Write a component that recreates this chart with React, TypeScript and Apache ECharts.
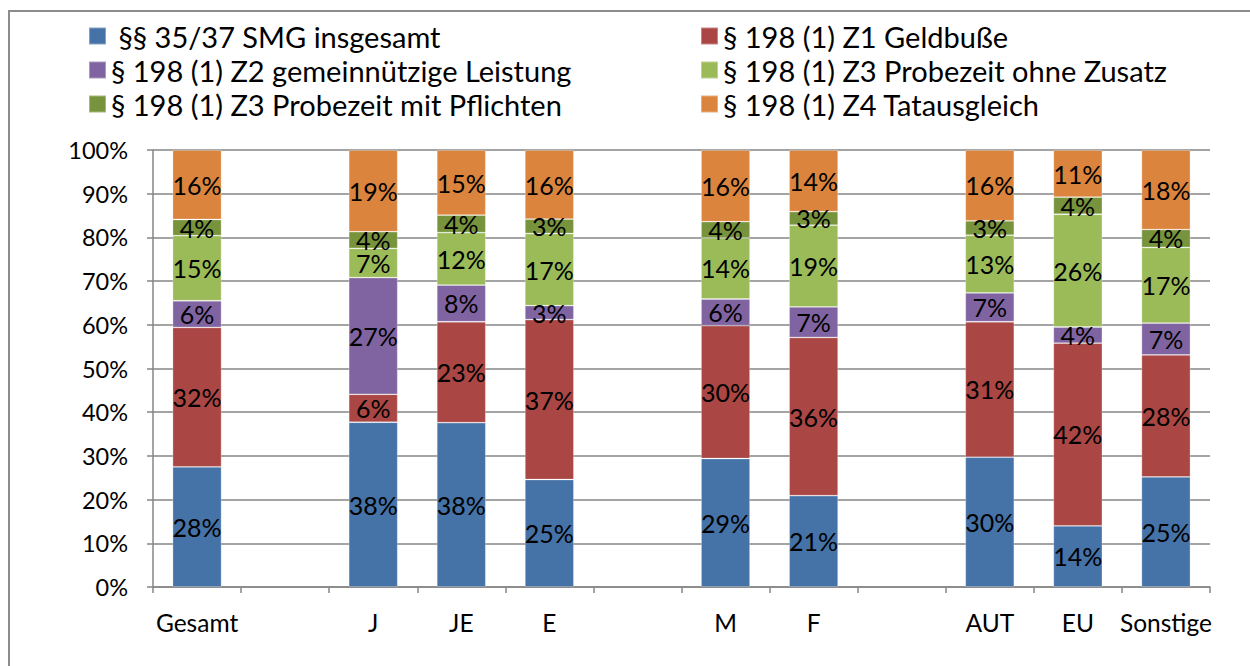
import React, { useEffect, useRef } from "react";
import * as echarts from "echarts";

// 12 slots: Gesamt, gap, J, JE, E, gap, M, F, gap, AUT, EU, Sonstige
const slotLabels = ["Gesamt", "", "J", "JE", "E", " ", "M", "F", "  ", "AUT", "EU", "Sonstige"];

const seriesNames = [
  "§§ 35/37 SMG insgesamt",
  "§ 198 (1) Z1 Geldbuße",
  "§ 198 (1) Z2 gemeinnützige Leistung",
  "§ 198 (1) Z3 Probezeit ohne Zusatz",
  "§ 198 (1) Z3 Probezeit mit Pflichten",
  "§ 198 (1) Z4 Tatausgleich",
];

const smgInsgesamt = [27.5, null, 37.7, 37.6, 24.6, null, 29.4, 20.9, null, 29.7, 14.0, 25.2];
const geldbusse = [31.9, null, 6.4, 23.1, 36.6, null, 30.4, 36.2, null, 31.0, 41.8, 27.9];
const gemeinnuetzig = [6.1, null, 26.7, 8.4, 3.2, null, 6.1, 7.0, null, 6.6, 3.7, 7.3];
const probezeitOhne = [14.9, null, 6.7, 12.0, 16.5, null, 14.0, 18.7, null, 13.2, 25.8, 17.3];
const probezeitMit = [3.7, null, 3.8, 4.0, 3.3, null, 3.7, 3.1, null, 3.3, 3.9, 4.1];
const tatausgleich = [15.9, null, 18.7, 14.9, 15.8, null, 16.4, 14.1, null, 16.2, 10.8, 18.2];

const yTicks = [0, 10, 20, 30, 40, 50, 60, 70, 80, 90, 100];

const colors = ["#4572A7", "#AA4643", "#8064A2", "#9BBB59", "#77933C", "#DB843D"];
const FONT = "Lato, 'Noto Sans', sans-serif";

export default function App() {
  const ref = useRef<HTMLDivElement>(null);
  useEffect(() => {
    if (!ref.current) return;
    const chart = echarts.init(ref.current, null, { renderer: "svg" });
    const values = [smgInsgesamt, geldbusse, gemeinnuetzig, probezeitOhne, probezeitMit, tatausgleich];
    const base = { fontFamily: FONT, color: "#000" };
    const legendText = { ...base, fontSize: 29, lineHeight: 30 };
    chart.setOption({
      animation: false,
      backgroundColor: "#fff",
      color: colors,
      graphic: [
        {
          type: "rect",
          shape: { x: 9, y: 11, width: 1300, height: 700 },
          style: { fill: "none", stroke: "#8c8c8c", lineWidth: 2 },
          silent: true,
          z: -10,
        },
      ],
      legend: [
        {
          data: [seriesNames[0], seriesNames[2], seriesNames[4]],
          left: 83,
          top: 16,
          orient: "vertical",
          icon: "rect",
          itemWidth: 17,
          itemHeight: 17,
          itemGap: 4,
          selectedMode: false,
          formatter: (n: string) => (n === seriesNames[0] ? " " + n : n),
          textStyle: legendText,
        },
        {
          data: [seriesNames[1], seriesNames[3], seriesNames[5]],
          left: 695,
          top: 16,
          orient: "vertical",
          icon: "rect",
          itemWidth: 17,
          itemHeight: 17,
          itemGap: 4,
          selectedMode: false,
          textStyle: legendText,
        },
      ],
      grid: { left: 153, right: 40, top: 150, bottom: 79, containLabel: false },
      xAxis: {
        type: "category",
        data: slotLabels,
        axisLine: { lineStyle: { color: "#868686", width: 1.5 } },
        axisTick: { show: true, length: 6, lineStyle: { color: "#868686", width: 1.5 } },
        axisLabel: { ...base, fontSize: 24.5, margin: 23, interval: 0 },
        splitLine: { show: false },
      },
      yAxis: {
        type: "value",
        min: yTicks[0],
        max: yTicks[yTicks.length - 1],
        interval: 10,
        axisLine: { show: true, lineStyle: { color: "#868686", width: 1.5 } },
        axisTick: { show: true, length: 6, lineStyle: { color: "#868686", width: 1.5 } },
        axisLabel: { ...base, fontSize: 23.5, margin: 25, formatter: "{value}%" },
        splitLine: { show: true, lineStyle: { color: "#868686", width: 1.5 } },
      },
      series: seriesNames.map((name, i) => ({
        name,
        type: "bar",
        stack: "total",
        barWidth: 49,
        data: values[i],
        itemStyle: { color: colors[i], borderColor: "rgba(255,255,255,0.35)", borderWidth: 0.8 },
        label: {
          show: true,
          position: "inside",
          ...base,
          fontSize: 25,
          lineHeight: 22,
          formatter: (p: any) => (p.value == null ? "" : Math.round(p.value) + "%"),
        },
      })),
    });
    return () => chart.dispose();
  }, []);
  return (
    <div
      ref={ref}
      style={{ position: "fixed", left: 0, top: 0, width: 1250, height: 666, background: "#fff" }}
    />
  );
}
